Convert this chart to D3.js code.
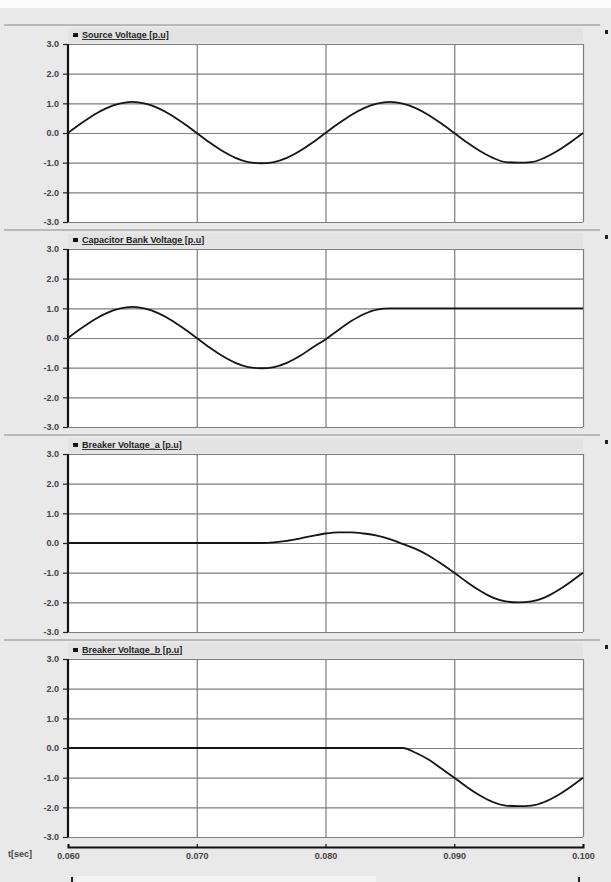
<!DOCTYPE html>
<html>
<head>
<meta charset="utf-8">
<script src="https://cdn.jsdelivr.net/npm/d3@7"></script>
<style>
  body { margin: 0; background: #fff; }
  svg { display: block; }
  .tick text { font-family: "Liberation Sans", Arial, sans-serif; font-size: 9px; font-weight: bold; fill: #444; }
  .title { font-family: "Liberation Sans", Arial, sans-serif; font-size: 9px; font-weight: bold; fill: #222; text-decoration: underline; }
</style>
</head>
<body>
<script>
var WIDTH = 611;
var HEIGHT = 882;

// time axis, seconds
var time = [0.060, 0.061, 0.062, 0.063, 0.064, 0.065, 0.066, 0.067, 0.068, 0.069,
    0.070, 0.071, 0.072, 0.073, 0.074, 0.075, 0.076, 0.077, 0.078, 0.079,
    0.080, 0.081, 0.082, 0.083, 0.084, 0.085, 0.086, 0.087, 0.088, 0.089,
    0.090, 0.091, 0.092, 0.093, 0.094, 0.095, 0.096, 0.097, 0.098, 0.099, 0.100];

// values, p.u.
var sourceVoltage = [0.00, 0.32, 0.61, 0.84, 0.99, 1.05, 0.99, 0.84, 0.61, 0.32,
    0.00, -0.32, -0.61, -0.84, -0.98, -1.02, -0.98, -0.84, -0.61, -0.32,
    0.00, 0.32, 0.61, 0.84, 0.99, 1.05, 0.99, 0.84, 0.61, 0.32,
    0.00, -0.32, -0.61, -0.84, -0.98, -1.00, -0.98, -0.84, -0.61, -0.32, 0.00];

var capacitorVoltage = [0.00, 0.32, 0.61, 0.84, 0.99, 1.05, 0.99, 0.84, 0.61, 0.32,
    0.00, -0.32, -0.61, -0.84, -0.98, -1.02, -0.98, -0.84, -0.61, -0.32,
    -0.05, 0.27, 0.57, 0.81, 0.96, 1.00, 1.00, 1.00, 1.00, 1.00,
    1.00, 1.00, 1.00, 1.00, 1.00, 1.00, 1.00, 1.00, 1.00, 1.00, 1.00];

var breakerVoltageA = [0.00, 0.00, 0.00, 0.00, 0.00, 0.00, 0.00, 0.00, 0.00, 0.00,
    0.00, 0.00, 0.00, 0.00, 0.00, 0.00, 0.02, 0.07, 0.15, 0.24,
    0.32, 0.36, 0.36, 0.32, 0.25, 0.13, -0.03, -0.20, -0.42, -0.70,
    -1.00, -1.32, -1.61, -1.84, -1.97, -2.00, -1.97, -1.84, -1.61, -1.32, -1.00];

var breakerVoltageB = [0.00, 0.00, 0.00, 0.00, 0.00, 0.00, 0.00, 0.00, 0.00, 0.00,
    0.00, 0.00, 0.00, 0.00, 0.00, 0.00, 0.00, 0.00, 0.00, 0.00,
    0.00, 0.00, 0.00, 0.00, 0.00, 0.00, 0.00, -0.16, -0.39, -0.69,
    -1.00, -1.32, -1.60, -1.82, -1.94, -1.96, -1.94, -1.82, -1.60, -1.32, -1.00];

var panelTitles = ["Source Voltage [p.u]", "Capacitor Bank Voltage [p.u]",
    "Breaker Voltage_a [p.u]", "Breaker Voltage_b [p.u]"];
var panelSeries = [sourceVoltage, capacitorVoltage, breakerVoltageA, breakerVoltageB];

var yTicks = [3, 2, 1, 0, -1, -2, -3];
var xTicks = [0.060, 0.070, 0.080, 0.090, 0.100];

var PLOT_LEFT = 68;
var PLOT_RIGHT = 583;
var FIRST_TOP = 44;
var PANEL_STEP = 205;
var PANEL_HEIGHT = 178;

var svg = d3.select("body")
    .append("svg")
    .attr("width", WIDTH)
    .attr("height", HEIGHT);

// window background
svg.append("rect").attr("width", WIDTH).attr("height", HEIGHT).attr("fill", "#e9e9e9");
svg.append("rect").attr("width", WIDTH).attr("height", 8).attr("fill", "#fbfbfb");

var x = d3.scaleLinear()
    .domain([0.060, 0.100])
    .range([PLOT_LEFT, PLOT_RIGHT]);

var line = d3.line()
    .curve(d3.curveMonotoneX);

// plain hyphen instead of d3's unicode minus, like the original tool
var fmtY = function (d) { return d.toFixed(1); };

function drawPanel(i) {
    var panelTop = FIRST_TOP + i * PANEL_STEP;
    var panelBottom = panelTop + PANEL_HEIGHT;
    var y = d3.scaleLinear().domain([-3, 3]).range([panelBottom, panelTop]);
    var g = svg.append("g").attr("class", "panel");

    // separator + title strip
    g.append("line")
        .attr("x1", 4).attr("x2", 600)
        .attr("y1", panelTop - 19).attr("y2", panelTop - 19)
        .attr("stroke", "#a9a9a9").attr("stroke-width", 1.5);
    g.append("rect")
        .attr("x", PLOT_LEFT).attr("y", panelTop - 16)
        .attr("width", PLOT_RIGHT - PLOT_LEFT).attr("height", 15)
        .attr("fill", "#e3e3e3");
    g.append("rect")
        .attr("x", 73).attr("y", panelTop - 11)
        .attr("width", 5).attr("height", 4)
        .attr("fill", "#111");
    g.append("text")
        .attr("class", "title")
        .attr("x", 82).attr("y", panelTop - 6)
        .text(panelTitles[i]);

    // plot area
    g.append("rect")
        .attr("x", PLOT_LEFT).attr("y", panelTop)
        .attr("width", PLOT_RIGHT - PLOT_LEFT).attr("height", PANEL_HEIGHT)
        .attr("fill", "#fff");

    // horizontal grid
    g.append("g")
        .attr("transform", "translate(" + PLOT_LEFT + ",0)")
        .call(d3.axisRight(y).tickValues(yTicks).tickSize(PLOT_RIGHT - PLOT_LEFT).tickFormat(""))
        .call(function (s) {
            s.select(".domain").remove();
            s.selectAll(".tick line").attr("stroke", "#7d7d7d").attr("stroke-width", 1.2);
        });

    // vertical grid
    g.append("g")
        .attr("transform", "translate(0," + panelTop + ")")
        .call(d3.axisBottom(x).tickValues(xTicks.slice(1)).tickSize(PANEL_HEIGHT).tickFormat(""))
        .call(function (s) {
            s.select(".domain").remove();
            s.selectAll(".tick line").attr("stroke", "#7d7d7d").attr("stroke-width", 1.2);
        });

    // left axis
    g.append("g")
        .attr("transform", "translate(" + PLOT_LEFT + ",0)")
        .call(d3.axisLeft(y).tickValues(yTicks).tickSize(5).tickPadding(4).tickFormat(fmtY))
        .call(function (s) {
            s.select(".domain").attr("stroke", "#111").attr("stroke-width", 2.2)
                .attr("d", "M0," + panelTop + "V" + panelBottom);
            s.selectAll(".tick line").attr("stroke", "#222").attr("stroke-width", 1.2);
        });

    // curve
    var values = panelSeries[i];
    var pts = time.map(function (t, k) { return [x(t), y(values[k])]; });
    g.append("path")
        .attr("d", line(pts))
        .attr("fill", "none")
        .attr("stroke", "#151515")
        .attr("stroke-width", 1.8);

    // little marker on the right edge
    g.append("rect")
        .attr("x", 605).attr("y", panelTop - 14)
        .attr("width", 3).attr("height", 4)
        .attr("fill", "#222");
}

for (var i = 0; i < panelSeries.length; i++) {
    drawPanel(i);
}

// time axis
var axisY = FIRST_TOP + 3 * PANEL_STEP + PANEL_HEIGHT + 10;
svg.append("g")
    .attr("transform", "translate(0," + axisY + ")")
    .call(d3.axisBottom(x).tickValues(xTicks).tickSize(-3).tickPadding(6).tickFormat(d3.format(".3f")))
    .call(function (s) {
        s.select(".domain").attr("stroke", "#111").attr("stroke-width", 2);
        s.selectAll(".tick line").attr("stroke", "#111").attr("stroke-width", 1.2);
    });

svg.append("text")
    .attr("x", 8).attr("y", axisY + 10)
    .attr("class", "title")
    .style("text-decoration", "none")
    .style("fill", "#444")
    .text("t[sec]");

// scroll-bar remains along the bottom
svg.append("rect")
    .attr("x", 76).attr("y", HEIGHT - 6)
    .attr("width", 300).attr("height", 6)
    .attr("fill", "#f4f4f4");
svg.append("rect").attr("x", 71).attr("y", HEIGHT - 5).attr("width", 2).attr("height", 5).attr("fill", "#222");
svg.append("rect").attr("x", 578).attr("y", HEIGHT - 5).attr("width", 2).attr("height", 5).attr("fill", "#222");
</script>
</body>
</html>
